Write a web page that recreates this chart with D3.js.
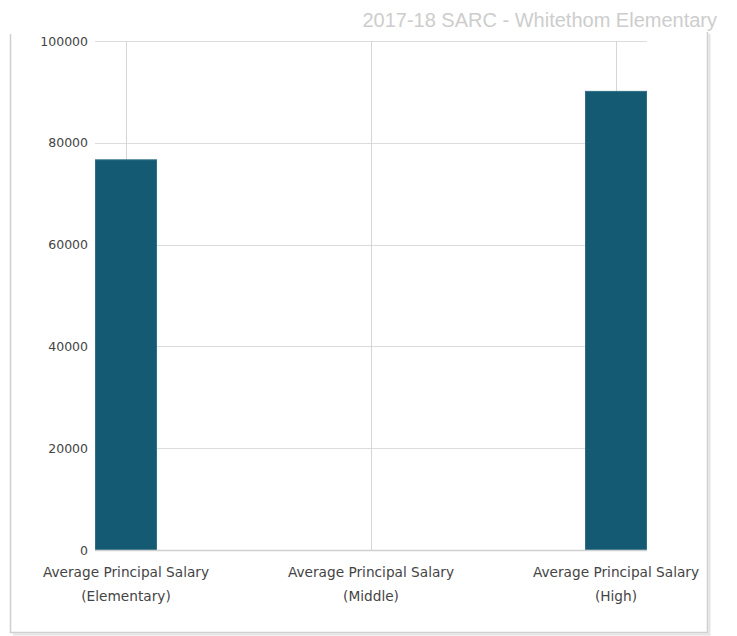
<!DOCTYPE html>
<html>
<head>
<meta charset="utf-8">
<script src="https://cdn.jsdelivr.net/npm/d3@7"></script>
<style>
  body { margin: 0; background: #fff; }
  svg { display: block; }
</style>
</head>
<body>
<svg id="chart" width="737" height="636"></svg>
<script>
// values
let categories = ['Average Principal Salary\n(Elementary)', 'Average Principal Salary\n(Middle)', 'Average Principal Salary\n(High)']
let salaries = [76650, null, 90100]
let yTicks = [0, 20000, 40000, 60000, 80000, 100000]
let title = '2017-18 SARC - Whitethom Elementary'

let svg = d3.select('#chart')

let plot_l = 95, plot_r = 647, plot_t = 41, plot_b = 550
let barWidth = 61

// outer frame with a little shadow
svg.append('path')
    .attr('d', 'M13,634.5 H709.5 V34')
    .attr('fill', 'none')
    .attr('stroke', '#e4e4e4')
    .attr('stroke-width', 2)
svg.append('path')
    .attr('d', 'M10.5,34 V632.5 H707.5 V32')
    .attr('fill', 'none')
    .attr('stroke', '#cfcfcf')
    .attr('stroke-width', 1.5)

svg.append('text')
    .attr('x', 717)
    .attr('y', 27)
    .attr('text-anchor', 'end')
    .attr('font-family', 'Liberation Sans, Arial, sans-serif')
    .attr('font-size', 20)
    .attr('fill', '#cdcdcd')
    .text(title)

let xScale = d3.scalePoint()
    .domain(categories)
    .range([126, 616])

let yScale = d3.scaleLinear()
    .domain([0, 100000])
    .range([plot_b, plot_t])

// horizontal grid
svg.append('g')
    .selectAll('line')
    .data(yTicks.filter(d => d > 0))
    .join('line')
    .attr('x1', plot_l)
    .attr('x2', plot_r)
    .attr('y1', d => Math.round(yScale(d)) + 0.5)
    .attr('y2', d => Math.round(yScale(d)) + 0.5)
    .attr('stroke', '#dcdcdc')

// vertical grid at category centres
svg.append('g')
    .selectAll('line')
    .data(categories)
    .join('line')
    .attr('x1', d => Math.round(xScale(d)) + 0.5)
    .attr('x2', d => Math.round(xScale(d)) + 0.5)
    .attr('y1', plot_t)
    .attr('y2', plot_b)
    .attr('stroke', '#d6d6d6')

// bars
svg.append('g')
    .selectAll('rect')
    .data(categories.map((c, i) => ({ c: c, v: salaries[i] })).filter(d => d.v != null))
    .join('rect')
    .attr('x', d => xScale(d.c) - barWidth / 2)
    .attr('width', barWidth)
    .attr('y', d => yScale(d.v))
    .attr('height', d => yScale(0) - yScale(d.v))
    .attr('fill', '#145a73')
    .attr('stroke', '#2f6f86')
    .attr('stroke-width', 1)

// baseline
svg.append('line')
    .attr('x1', plot_l)
    .attr('x2', plot_r)
    .attr('y1', plot_b + 0.5)
    .attr('y2', plot_b + 0.5)
    .attr('stroke', '#d0d0d0')
    .attr('stroke-width', 1.5)

// y axis labels
let yAxisGen = d3.axisLeft(yScale)
    .tickValues(yTicks)
    .tickSize(0)
    .tickPadding(7)
    .tickFormat(d3.format('d'))

let yAxis = svg.append('g')
    .attr('transform', `translate(${plot_l})`)
    .call(yAxisGen)
yAxis.select('.domain').remove()
yAxis.selectAll('text')
    .attr('font-family', '"DejaVu Sans", Verdana, sans-serif')
    .attr('font-size', 12.5)
    .attr('fill', '#444')

// x labels, two lines each
let xLabels = svg.append('g')
    .selectAll('text')
    .data(categories)
    .join('text')
    .attr('x', d => xScale(d))
    .attr('y', 577)
    .attr('text-anchor', 'middle')
    .attr('font-family', '"DejaVu Sans", Verdana, sans-serif')
    .attr('font-size', 13.7)
    .attr('fill', '#444')
xLabels.selectAll('tspan')
    .data(d => d.split('\n').map(s => ({ s: s, x: xScale(d) })))
    .join('tspan')
    .attr('x', d => d.x)
    .attr('dy', (d, i) => i ? 24 : 0)
    .text(d => d.s)
</script>
</body>
</html>
